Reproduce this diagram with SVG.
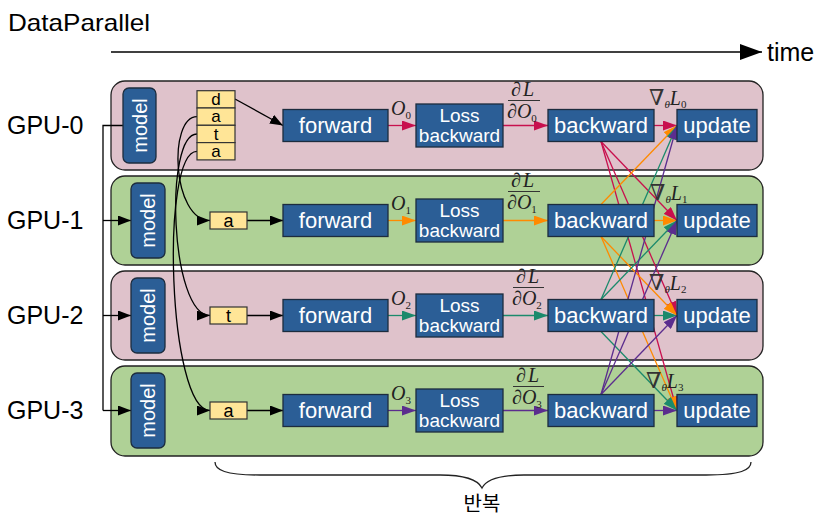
<svg xmlns="http://www.w3.org/2000/svg" width="827" height="528" viewBox="0 0 827 528">
<style>
.lbl{font-family:"Liberation Sans",Arial,sans-serif;fill:#000}
.pink{fill:#dfc2cb;stroke:#222;stroke-width:1.3}
.green{fill:#afd196;stroke:#222;stroke-width:1.3}
.box{fill:#2b5e96;stroke:#1c2c3e;stroke-width:1.3}
.bt{font-family:"Liberation Sans",Arial,sans-serif;fill:#fff;font-size:22px;text-anchor:middle}
.lt{font-family:"Liberation Sans",Arial,sans-serif;fill:#fff;font-size:19px;text-anchor:middle}
.mt{font-family:"Liberation Sans",Arial,sans-serif;fill:#fff;font-size:20px;text-anchor:middle}
.cell{fill:#ffe597;stroke:#333;stroke-width:1.2}
.ct{font-family:"Liberation Sans",Arial,sans-serif;fill:#000;font-size:18px;text-anchor:middle}
.cs{font-size:17px}
.math{font-family:"Liberation Serif","DejaVu Serif",serif;fill:#222;font-size:20px}
.nab{font-family:"DejaVu Serif","Liberation Serif",serif;font-size:22px;fill:#333}
.k{fill:none;stroke:#000;stroke-width:1.3}
.c0{fill:none;stroke:#c8104e;stroke-width:1.3}
.c1{fill:none;stroke:#ff8a00;stroke-width:1.3}
.c2{fill:none;stroke:#1b8a6c;stroke-width:1.3}
.c3{fill:none;stroke:#5b2d8e;stroke-width:1.3}
.bar{stroke:#333;stroke-width:1}
</style>
<defs>
<marker id="ak" markerUnits="userSpaceOnUse" markerWidth="13" markerHeight="10" refX="13" refY="5" orient="auto"><path d="M0,0 L13,5 L0,10 z" fill="#000"/></marker>
<marker id="at" markerUnits="userSpaceOnUse" markerWidth="22" markerHeight="16" refX="22" refY="8" orient="auto"><path d="M0,0 L22,8 L0,16 z" fill="#000"/></marker>
<marker id="a0" markerUnits="userSpaceOnUse" markerWidth="14" markerHeight="10" refX="14" refY="5" orient="auto"><path d="M0,0 L14,5 L0,10 z" fill="#c8104e"/></marker>
<marker id="a1" markerUnits="userSpaceOnUse" markerWidth="14" markerHeight="10" refX="14" refY="5" orient="auto"><path d="M0,0 L14,5 L0,10 z" fill="#ff8a00"/></marker>
<marker id="a2" markerUnits="userSpaceOnUse" markerWidth="14" markerHeight="10" refX="14" refY="5" orient="auto"><path d="M0,0 L14,5 L0,10 z" fill="#1b8a6c"/></marker>
<marker id="a3" markerUnits="userSpaceOnUse" markerWidth="14" markerHeight="10" refX="14" refY="5" orient="auto"><path d="M0,0 L14,5 L0,10 z" fill="#5b2d8e"/></marker>
</defs>

<text class="lbl" x="8" y="31" font-size="24" textLength="142" lengthAdjust="spacingAndGlyphs">DataParallel</text>
<text class="lbl" x="767" y="61" font-size="25">time</text>

<g id="lanes">
<rect id="lane0" class="pink" x="111" y="81" width="652" height="89" rx="14"/>
<rect id="lane1" class="green" x="111" y="176" width="652" height="89" rx="14"/>
<rect id="lane2" class="pink" x="111" y="271" width="652" height="89" rx="14"/>
<rect id="lane3" class="green" x="111" y="366" width="652" height="90" rx="14"/>
</g>

<g id="gpu-labels">
<text class="lbl" x="7" y="134" font-size="25">GPU-0</text>
<text class="lbl" x="7" y="229" font-size="25">GPU-1</text>
<text class="lbl" x="7" y="324" font-size="25">GPU-2</text>
<text class="lbl" x="7" y="419" font-size="25">GPU-3</text>
</g>

<g id="connectors">
<path class="k" d="M111,52 H762" marker-end="url(#at)"/>
<path class="k" d="M123,125.5 H103 V410.5"/>
<path class="k" d="M103,220.5 H131" marker-end="url(#ak)"/>
<path class="k" d="M103,315.5 H131" marker-end="url(#ak)"/>
<path class="k" d="M103,410.5 H131" marker-end="url(#ak)"/>
<path class="k" d="M235,99 L283,125.5" marker-end="url(#ak)"/>
<path class="k" d="M197,116.7 C168,116.7 172,220.5 210,220.5" marker-end="url(#ak)"/>
<path class="k" d="M197,134 C164,134 170,315.5 210,315.5" marker-end="url(#ak)"/>
<path class="k" d="M197,151.3 C160,151.3 168,410.5 210,410.5" marker-end="url(#ak)"/>
<path class="k" d="M247,220.5 H283" marker-end="url(#ak)"/>
<path class="k" d="M247,315.5 H283" marker-end="url(#ak)"/>
<path class="k" d="M247,410.5 H283" marker-end="url(#ak)"/>

<path class="c0" d="M388,125.5 H416" marker-end="url(#a0)"/>
<path class="c1" d="M388,220.5 H416" marker-end="url(#a1)"/>
<path class="c2" d="M388,315.5 H416" marker-end="url(#a2)"/>
<path class="c3" d="M388,410.5 H416" marker-end="url(#a3)"/>
<path class="c0" d="M503,125.5 H548" marker-end="url(#a0)"/>
<path class="c1" d="M503,220.5 H548" marker-end="url(#a1)"/>
<path class="c2" d="M503,315.5 H548" marker-end="url(#a2)"/>
<path class="c3" d="M503,410.5 H548" marker-end="url(#a3)"/>
<path class="c0" d="M654,125.5 H677" marker-end="url(#a0)"/>
<path class="c1" d="M654,220.5 H677" marker-end="url(#a1)"/>
<path class="c2" d="M654,315.5 H677" marker-end="url(#a2)"/>
<path class="c3" d="M654,410.5 H677" marker-end="url(#a3)"/>

<path class="c0" d="M601,141.5 L677,220.5" marker-end="url(#a0)"/>
<path class="c0" d="M601,141.5 L677,315.5" marker-end="url(#a0)"/>
<path class="c0" d="M601,141.5 L677,410.5" marker-end="url(#a0)"/>
<path class="c1" d="M601,204.5 L677,125.5" marker-end="url(#a1)"/>
<path class="c1" d="M601,236.5 L677,315.5" marker-end="url(#a1)"/>
<path class="c1" d="M601,236.5 L677,410.5" marker-end="url(#a1)"/>
<path class="c2" d="M601,299.5 L677,125.5" marker-end="url(#a2)"/>
<path class="c2" d="M601,299.5 L677,220.5" marker-end="url(#a2)"/>
<path class="c2" d="M601,331.5 L677,410.5" marker-end="url(#a2)"/>
<path class="c3" d="M601,394.5 L677,125.5" marker-end="url(#a3)"/>
<path class="c3" d="M601,394.5 L677,220.5" marker-end="url(#a3)"/>
<path class="c3" d="M601,394.5 L677,315.5" marker-end="url(#a3)"/>
</g>

<g id="model0"><rect class="box" x="123" y="88" width="33" height="75" rx="6"/><text class="mt" transform="translate(139.5,125.5) rotate(-90)" y="7">model</text></g>
<g id="model1"><rect class="box" x="131" y="183" width="34" height="75" rx="6"/><text class="mt" transform="translate(148,220.5) rotate(-90)" y="7">model</text></g>
<g id="model2"><rect class="box" x="131" y="278" width="34" height="75" rx="6"/><text class="mt" transform="translate(148,315.5) rotate(-90)" y="7">model</text></g>
<g id="model3"><rect class="box" x="131" y="373" width="34" height="75" rx="6"/><text class="mt" transform="translate(148,410.5) rotate(-90)" y="7">model</text></g>

<g id="data">
<rect class="cell" x="197" y="90.7" width="38" height="17.3"/><text class="ct cs" x="216" y="105">d</text>
<rect class="cell" x="197" y="108" width="38" height="17.3"/><text class="ct cs" x="216" y="122.3">a</text>
<rect class="cell" x="197" y="125.3" width="38" height="17.3"/><text class="ct cs" x="216" y="139.6">t</text>
<rect class="cell" x="197" y="142.6" width="38" height="17.3"/><text class="ct cs" x="216" y="156.9">a</text>
</g>
<g id="data1"><rect class="cell" x="210" y="212" width="37" height="17"/><text class="ct" x="228.5" y="226.5">a</text></g>
<g id="data2"><rect class="cell" x="210" y="307" width="37" height="17"/><text class="ct" x="228.5" y="321.5">t</text></g>
<g id="data3"><rect class="cell" x="210" y="402" width="37" height="17"/><text class="ct" x="228.5" y="416.5">a</text></g>

<g id="forward0"><rect class="box" x="283" y="109.5" width="105" height="32"/><text class="bt" x="335.5" y="133">forward</text></g>
<g id="forward1"><rect class="box" x="283" y="204.5" width="105" height="32"/><text class="bt" x="335.5" y="228">forward</text></g>
<g id="forward2"><rect class="box" x="283" y="299.5" width="105" height="32"/><text class="bt" x="335.5" y="323">forward</text></g>
<g id="forward3"><rect class="box" x="283" y="394.5" width="105" height="32"/><text class="bt" x="335.5" y="418">forward</text></g>

<g id="loss0"><rect class="box" x="416" y="104" width="87" height="43"/><text class="lt" x="459.5" y="121.5">Loss</text><text class="lt" x="459.5" y="141.5">backward</text></g>
<g id="loss1"><rect class="box" x="416" y="199" width="87" height="43"/><text class="lt" x="459.5" y="216.5">Loss</text><text class="lt" x="459.5" y="236.5">backward</text></g>
<g id="loss2"><rect class="box" x="416" y="294" width="87" height="43"/><text class="lt" x="459.5" y="311.5">Loss</text><text class="lt" x="459.5" y="331.5">backward</text></g>
<g id="loss3"><rect class="box" x="416" y="389" width="87" height="43"/><text class="lt" x="459.5" y="406.5">Loss</text><text class="lt" x="459.5" y="426.5">backward</text></g>

<g id="backward0"><rect class="box" x="548" y="109.5" width="106" height="32"/><text class="bt" x="601" y="133">backward</text></g>
<g id="backward1"><rect class="box" x="548" y="204.5" width="106" height="32"/><text class="bt" x="601" y="228">backward</text></g>
<g id="backward2"><rect class="box" x="548" y="299.5" width="106" height="32"/><text class="bt" x="601" y="323">backward</text></g>
<g id="backward3"><rect class="box" x="548" y="394.5" width="106" height="32"/><text class="bt" x="601" y="418">backward</text></g>

<g id="update0"><rect class="box" x="677" y="109.5" width="80" height="32"/><text class="bt" x="717" y="133">update</text></g>
<g id="update1"><rect class="box" x="677" y="204.5" width="80" height="32"/><text class="bt" x="717" y="228">update</text></g>
<g id="update2"><rect class="box" x="677" y="299.5" width="80" height="32"/><text class="bt" x="717" y="323">update</text></g>
<g id="update3"><rect class="box" x="677" y="394.5" width="80" height="32"/><text class="bt" x="717" y="418">update</text></g>

<g id="math-labels">
<text class="math" x="391" y="115"><tspan font-style="italic">O</tspan><tspan font-size="11" dy="4">0</tspan></text>
<text class="math" x="391" y="210"><tspan font-style="italic">O</tspan><tspan font-size="11" dy="4">1</tspan></text>
<text class="math" x="391" y="305"><tspan font-style="italic">O</tspan><tspan font-size="11" dy="4">2</tspan></text>
<text class="math" x="391" y="400"><tspan font-style="italic">O</tspan><tspan font-size="11" dy="4">3</tspan></text>

<text class="math" x="511" y="95.5">∂<tspan font-style="italic" dx="2">L</tspan></text>
<line class="bar" x1="508" y1="100.5" x2="540" y2="100.5"/>
<text class="math" x="507" y="117.5">∂<tspan font-style="italic">O</tspan><tspan font-size="11" dy="4">0</tspan></text>

<text class="math" x="511" y="186.5">∂<tspan font-style="italic" dx="2">L</tspan></text>
<line class="bar" x1="508" y1="191.5" x2="540" y2="191.5"/>
<text class="math" x="507" y="208.5">∂<tspan font-style="italic">O</tspan><tspan font-size="11" dy="4">1</tspan></text>

<text class="math" x="516" y="282.5">∂<tspan font-style="italic" dx="2">L</tspan></text>
<line class="bar" x1="513" y1="287.5" x2="544" y2="287.5"/>
<text class="math" x="512" y="304.5">∂<tspan font-style="italic">O</tspan><tspan font-size="11" dy="4">2</tspan></text>

<text class="math" x="516" y="381.5">∂<tspan font-style="italic" dx="2">L</tspan></text>
<line class="bar" x1="513" y1="386.5" x2="544" y2="386.5"/>
<text class="math" x="512" y="403.5">∂<tspan font-style="italic">O</tspan><tspan font-size="11" dy="4">3</tspan></text>

<text class="math" x="649" y="105"><tspan class="nab">∇</tspan><tspan font-size="11" font-style="italic" dy="3">θ</tspan><tspan font-style="italic" dy="-3">L</tspan><tspan font-size="11" dy="3">0</tspan></text>
<text class="math" x="650" y="200"><tspan class="nab">∇</tspan><tspan font-size="11" font-style="italic" dy="3">θ</tspan><tspan font-style="italic" dy="-3">L</tspan><tspan font-size="11" dy="3">1</tspan></text>
<text class="math" x="649" y="290"><tspan class="nab">∇</tspan><tspan font-size="11" font-style="italic" dy="3">θ</tspan><tspan font-style="italic" dy="-3">L</tspan><tspan font-size="11" dy="3">2</tspan></text>
<text class="math" x="646" y="387.5"><tspan class="nab">∇</tspan><tspan font-size="11" font-style="italic" dy="3">θ</tspan><tspan font-style="italic" dy="-3">L</tspan><tspan font-size="11" dy="3">3</tspan></text>
</g>

<g id="brace">
<path fill="none" stroke="#222" stroke-width="1.3" d="M215,462 C215,470 225,475 260,475 H440 C465,475 478,480 482,488 C486,480 499,475 524,475 H706 C741,475 751,470 751,462"/>
<text x="482" y="511" font-size="20" text-anchor="middle" font-family="'Noto Sans CJK KR','Noto Sans CJK SC',sans-serif" fill="#000">반복</text>
</g>
</svg>
